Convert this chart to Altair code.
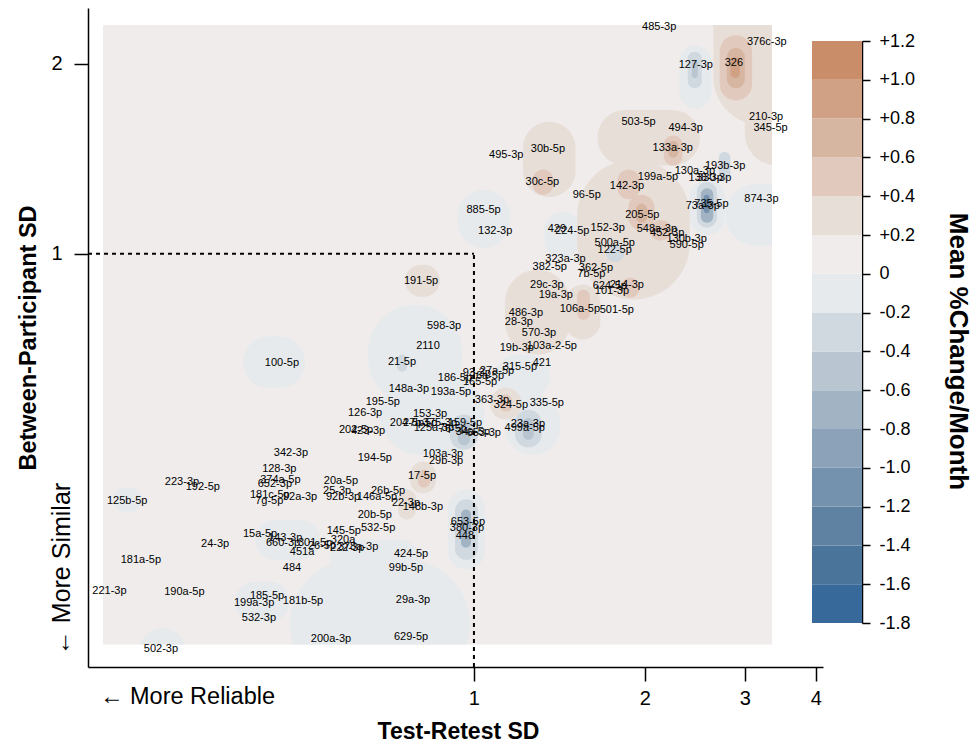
import altair as alt
import pandas as pd

# ---------------------------------------------------------------------------
# miRNA spread estimates: test-retest SD (x) and between-participant SD (y)
# ---------------------------------------------------------------------------
MIRNA = [
    "485-3p", "376c-3p", "127-3p", "326", "210-3p", "345-5p", "503-5p", "494-3p",
    "133a-3p", "495-3p", "30b-5p", "193b-3p", "130a-3p", "138-3p", "330-3p",
    "199a-5p", "142-3p", "30c-5p", "96-5p", "874-3p", "735-5p", "73a-3p",
    "205-5p", "885-5p", "132-3p", "429", "224-5p", "152-3p", "548a-3p", "452-3p",
    "130b-3p", "590-5p", "500a-5p", "122-5p", "323a-3p", "382-5p", "362-5p",
    "7b-5p", "29c-3p", "19a-3p", "624-5p", "214-3p", "101-3p", "106a-5p",
    "501-5p", "486-3p", "28-3p", "570-3p", "19b-3p", "103a-2-5p", "421",
    "315-5p", "27a-5p", "93-3p", "186-5p", "26a-5p", "165-5p", "193a-5p",
    "148a-3p", "363-3p", "324-5p", "335-5p", "195-5p", "126-3p", "153-3p",
    "23a-3p", "499a-5p", "202-5p", "423-3p", "204-5p", "27b-5p", "375-3p",
    "159-5p", "125a-3p", "76-5p", "34a-5p", "653-3p", "342-3p", "194-5p",
    "103a-3p", "29b-3p", "128-3p", "223-3p", "192-5p", "374a-5p", "652-3p",
    "181c-5p", "92a-3p", "7g-5p", "125b-5p", "20a-5p", "17-5p", "25-3p",
    "92b-3p", "146a-5p", "26b-5p", "22-3p", "148b-3p", "20b-5p", "532-5p",
    "653-5p", "380-3p", "448", "145-5p", "15a-5p", "24-3p", "143-3p", "660-3p",
    "301-5p", "26-5p", "320a", "222-3p", "378a-3p", "451a", "181a-5p", "424-5p",
    "484", "99b-5p", "221-3p", "190a-5p", "185-5p", "199a-3p", "181b-5p",
    "29a-3p", "532-3p", "200a-3p", "629-5p", "502-3p", "100-5p", "21-5p",
    "2110", "598-3p", "191-5p",
]
TEST_RETEST_SD = [
    2.12, 3.28, 2.46, 2.87, 3.27, 3.33, 1.95, 2.36,
    2.24, 1.14, 1.35, 2.77, 2.45, 2.56, 2.65,
    2.11, 1.86, 1.32, 1.58, 3.21, 2.62, 2.53,
    1.98, 1.04, 1.09, 1.40, 1.49, 1.72, 2.10, 2.19,
    2.37, 2.37, 1.77, 1.77, 1.45, 1.36, 1.64,
    1.61, 1.344, 1.394, 1.735, 1.859, 1.750, 1.537,
    1.785, 1.235, 1.20, 1.302, 1.19, 1.372, 1.317,
    1.205, 1.098, 1.012, 0.926, 1.054, 1.025, 0.911,
    0.768, 1.076, 1.162, 1.344, 0.691, 0.643, 0.837,
    1.245, 1.229, 0.620, 0.651, 0.762, 0.804, 0.871,
    0.964, 0.850, 0.918, 0.996, 1.041, 0.476, 0.669,
    0.882, 0.893, 0.454, 0.306, 0.333, 0.456, 0.446,
    0.437, 0.494, 0.436, 0.245, 0.583, 0.810, 0.574,
    0.588, 0.675, 0.706, 0.759, 0.813, 0.669, 0.678,
    0.976, 0.972, 0.964, 0.590, 0.420, 0.350, 0.465, 0.461,
    0.525, 0.540, 0.588, 0.598, 0.625, 0.498, 0.259, 0.775,
    0.478, 0.759, 0.228, 0.309, 0.432, 0.410, 0.500,
    0.781, 0.418, 0.560, 0.775, 0.281, 0.459, 0.747,
    0.830, 0.886, 0.807,
]
BETWEEN_SD = [
    2.29, 2.17, 1.99, 2.01, 1.65, 1.58, 1.62, 1.58,
    1.47, 1.435, 1.467, 1.38, 1.354, 1.32, 1.32,
    1.324, 1.281, 1.30, 1.24, 1.222, 1.20, 1.191,
    1.153, 1.174, 1.088, 1.095, 1.088, 1.099, 1.095, 1.08,
    1.056, 1.033, 1.041, 1.015, 0.982, 0.954, 0.950,
    0.930, 0.893, 0.861, 0.890, 0.893, 0.874, 0.818,
    0.815, 0.806, 0.78, 0.75, 0.71, 0.715, 0.672,
    0.662, 0.653, 0.648, 0.636, 0.641, 0.627, 0.604,
    0.611, 0.587, 0.576, 0.579, 0.583, 0.560, 0.558,
    0.538, 0.530, 0.526, 0.524, 0.540, 0.540, 0.540,
    0.540, 0.530, 0.528, 0.522, 0.520, 0.484, 0.475,
    0.482, 0.470, 0.455, 0.434, 0.426, 0.438, 0.431,
    0.415, 0.412, 0.405, 0.405, 0.437, 0.445, 0.420,
    0.412, 0.412, 0.421, 0.402, 0.396, 0.386, 0.368,
    0.375, 0.367, 0.357, 0.363, 0.359, 0.346, 0.354, 0.348,
    0.348, 0.344, 0.352, 0.341, 0.343, 0.337, 0.327, 0.334,
    0.317, 0.318, 0.292, 0.291, 0.287, 0.279, 0.281,
    0.282, 0.265, 0.245, 0.247, 0.236, 0.670, 0.674,
    0.715, 0.769, 0.906,
]

# ---------------------------------------------------------------------------
# Smoothed mean %change/month surface over the (test-retest, between) plane.
# The surface sits at the 0..+0.2 level; patches mark regions at other levels.
# Patches touching the surface border run past it and are trimmed there.
# ---------------------------------------------------------------------------
GRID_X_RANGE = [0.222, 3.35]
GRID_Y_RANGE = [0.240, 2.306]
GRID_BASE_VALUE = 0.1

PATCH_X0 = [2.64, 3.00, 1.22, 1.65, 1.52, 1.134, 1.446, 0.756, 0.772, 0.735, 1.067,
            2.71, 1.27, 1.79, 1.87, 2.16, 2.04, 1.81, 1.52, 0.797, 1.111,
            2.79, 1.93, 2.20, 2.83,
            2.30, 2.40, 2.77, 1.33, 0.937, 0.651, 0.392, 0.683, 1.134, 1.089,
            0.900, 0.474, 0.558, 0.379, 0.258, 0.231, 0.412,
            2.38, 2.70, 2.47, 1.71, 0.732, 0.907, 1.181, 0.926,
            2.42, 0.937, 1.22, 2.51, 0.949, 2.54, 2.55]
PATCH_X1 = [3.90, 3.90, 1.51, 2.50, 2.40, 1.476, 1.67, 0.871, 0.857, 0.790, 1.215,
            3.09, 1.38, 1.96, 2.08, 2.33, 2.23, 1.96, 1.60, 0.837, 1.166,
            3.00, 2.02, 2.29, 2.94,
            2.62, 2.77, 3.90, 1.54, 1.157, 0.953, 0.504, 1.045, 1.42, 1.361,
            1.045, 0.984, 0.803, 0.474, 0.310, 0.260, 0.536,
            2.52, 2.83, 2.68, 1.84, 0.762, 1.016, 1.317, 1.016,
            2.48, 0.984, 1.275, 2.64, 0.988, 2.60, 2.59]
PATCH_Y0 = [1.60, 1.38, 1.23, 1.38, 0.846, 0.692, 0.731, 0.855, 0.417, 0.379, 0.546,
            1.75, 1.24, 1.22, 1.09, 1.38, 1.05, 0.852, 0.786, 0.426, 0.562,
            1.83, 1.12, 1.42, 1.90,
            1.70, 1.07, 1.03, 0.985, 1.022, 0.576, 0.613, 0.480, 0.480, 0.587,
            0.316, 0.205, 0.304, 0.261, 0.205, 0.390, 0.327,
            1.83, 1.31, 1.10, 0.971, 0.650, 0.489, 0.493, 0.327,
            1.90, 0.497, 0.507, 1.12, 0.342, 1.16, 1.18]
PATCH_Y1 = [2.70, 1.79, 1.62, 1.69, 1.41, 0.943, 0.893, 0.961, 0.468, 0.423, 0.613,
            2.22, 1.36, 1.36, 1.24, 1.54, 1.13, 0.916, 0.877, 0.455, 0.598,
            2.12, 1.20, 1.51, 2.05,
            2.14, 1.31, 1.29, 1.166, 1.263, 0.830, 0.739, 0.643, 0.598, 0.692,
            0.423, 0.327, 0.352, 0.302, 0.255, 0.426, 0.379,
            2.09, 1.45, 1.30, 1.033, 0.692, 0.556, 0.566, 0.408,
            2.03, 0.546, 0.549, 1.27, 0.393, 1.24, 1.22]
PATCH_VALUE = [0.3, 0.3, 0.3, 0.3, 0.3, 0.3, 0.3, 0.3, 0.3, 0.3, 0.3,
               0.5, 0.5, 0.5, 0.5, 0.5, 0.5, 0.5, 0.5, 0.5, 0.5,
               0.7, 0.7, 0.7, 0.9,
               -0.1, -0.1, -0.1, -0.1, -0.1, -0.1, -0.1, -0.1, -0.1, -0.1,
               -0.1, -0.1, -0.1, -0.1, -0.1, -0.1, -0.1,
               -0.3, -0.3, -0.3, -0.3, -0.3, -0.3, -0.3, -0.3,
               -0.5, -0.5, -0.5, -0.7, -0.7, -1.1, -1.3]

# ---------------------------------------------------------------------------
# Colour bands for mean %change/month
# ---------------------------------------------------------------------------
BAND_EDGES = [-1.8, -1.6, -1.4, -1.2, -1.0, -0.8, -0.6, -0.4, -0.2,
              0.0, 0.2, 0.4, 0.6, 0.8, 1.0, 1.2]
BAND_COLORS = ["#376a9a", "#4a7499", "#5f81a2", "#7491ad", "#8ca2b8",
               "#a2b4c3", "#b9c5d0", "#d1d9e0", "#e7eaed", "#efeceb",
               "#e7ded7", "#e1c9bd", "#d7b6a1", "#d0a184", "#c98d69"]

X_TICKS = [1, 2, 3, 4]
Y_TICKS = [1, 2]
SD_CUTOFF = 1
X_DOMAIN = [0.209, 4.12]
Y_DOMAIN = [0.2212, 2.453]

W, H = 735, 659
FONT = "Liberation Sans"

# ---------------------------------------------------------------------------
points = pd.DataFrame({"mirna": MIRNA, "trt": TEST_RETEST_SD, "bps": BETWEEN_SD})

surface_base = pd.DataFrame({"x0": [GRID_X_RANGE[0]], "x1": [GRID_X_RANGE[1]],
                             "y0": [GRID_Y_RANGE[0]], "y1": [GRID_Y_RANGE[1]],
                             "v": [GRID_BASE_VALUE]})
patches = pd.DataFrame({"x0": PATCH_X0, "x1": PATCH_X1, "y0": PATCH_Y0,
                        "y1": PATCH_Y1, "v": PATCH_VALUE})
patches["depth"] = patches["v"].abs()
patches = patches.sort_values("depth", kind="stable")

# blank strips between the surface border and the axes
outside = pd.DataFrame({
    "x0": [X_DOMAIN[0], GRID_X_RANGE[1], X_DOMAIN[0], X_DOMAIN[0]],
    "x1": [GRID_X_RANGE[0], X_DOMAIN[1], X_DOMAIN[1], X_DOMAIN[1]],
    "y0": [Y_DOMAIN[0], Y_DOMAIN[0], GRID_Y_RANGE[1], Y_DOMAIN[0]],
    "y1": [Y_DOMAIN[1], Y_DOMAIN[1], Y_DOMAIN[1], GRID_Y_RANGE[0]],
})

bands = pd.DataFrame({"lo": BAND_EDGES[:-1], "hi": BAND_EDGES[1:]})
bands["mid"] = (bands["lo"] + bands["hi"]) / 2

cutoff_h = pd.DataFrame({"x0": [X_DOMAIN[0]], "x1": [SD_CUTOFF], "y": [SD_CUTOFF]})
cutoff_v = pd.DataFrame({"x": [SD_CUTOFF], "y0": [Y_DOMAIN[0]], "y1": [SD_CUTOFF]})

xs = alt.Scale(type="log", domain=X_DOMAIN, nice=False)
ys = alt.Scale(type="log", domain=Y_DOMAIN, nice=False)
color_scale = alt.Scale(type="threshold", domain=BAND_EDGES[1:-1], range=BAND_COLORS)

x_axis = alt.Axis(
    values=X_TICKS, format="d", title="Test-Retest SD", grid=False, zindex=1,
    titleFont=FONT, titleFontSize=23, titleFontWeight="bold", titleColor="black",
    titleX=370, titleY=64, titleBaseline="middle", titleAlign="center",
    labelFont=FONT, labelFontSize=20, labelColor="black", labelPadding=7,
    labelFlush=False, tickSize=14, tickWidth=1.5, tickColor="black",
    domainColor="black", domainWidth=1.5,
)
y_axis = alt.Axis(
    values=Y_TICKS, format="d", title="Between-Participant SD", grid=False, zindex=1,
    titleFont=FONT, titleFontSize=23.5, titleFontWeight="bold", titleColor="black",
    titleX=-60, titleY=H / 2, titleAngle=270, titleBaseline="middle", titleAlign="center",
    labelFont=FONT, labelFontSize=20, labelColor="black", labelPadding=12,
    labelFlush=False, tickSize=14, tickWidth=1.5, tickColor="black",
    domainColor="black", domainWidth=1.5,
)

color_enc = alt.Color("v:Q", scale=color_scale, legend=None)

base_layer = alt.Chart(surface_base).mark_rect().encode(
    x=alt.X("x0:Q", scale=xs, axis=x_axis),
    x2="x1:Q",
    y=alt.Y("y0:Q", scale=ys, axis=y_axis),
    y2="y1:Q",
    color=color_enc,
)

patch_layer = alt.Chart(patches).mark_rect(cornerRadius=999, clip=True).encode(
    x=alt.X("x0:Q", scale=xs), x2="x1:Q",
    y=alt.Y("y0:Q", scale=ys), y2="y1:Q",
    color=color_enc,
)

outside_layer = alt.Chart(outside).mark_rect(fill="white", opacity=1).encode(
    x=alt.X("x0:Q", scale=xs), x2="x1:Q",
    y=alt.Y("y0:Q", scale=ys), y2="y1:Q",
)

rule_h = alt.Chart(cutoff_h).mark_rule(color="black", strokeWidth=2, strokeDash=[4, 4]).encode(
    x=alt.X("x0:Q", scale=xs), x2="x1:Q", y=alt.Y("y:Q", scale=ys))
rule_v = alt.Chart(cutoff_v).mark_rule(color="black", strokeWidth=2, strokeDash=[4, 4]).encode(
    x=alt.X("x:Q", scale=xs), y=alt.Y("y0:Q", scale=ys), y2="y1:Q")

labels = alt.Chart(points).mark_text(font=FONT, fontSize=11, color="black").encode(
    x=alt.X("trt:Q", scale=xs), y=alt.Y("bps:Q", scale=ys), text="mirna:N")

reliable_note = alt.Chart(pd.DataFrame({"t": ["← More Reliable"]})).mark_text(
    font=FONT, fontSize=23.5, color="black", align="left", baseline="middle"
).encode(x=alt.value(12), y=alt.value(H + 30), text="t:N")

similar_note = alt.Chart(pd.DataFrame({"t": ["← More Similar"]})).mark_text(
    font=FONT, fontSize=25, color="black", align="center", baseline="middle", angle=270
).encode(x=alt.value(-26), y=alt.value(561), text="t:N")

main = alt.layer(base_layer, patch_layer, outside_layer, rule_h, rule_v, labels,
                 reliable_note, similar_note)

legend_axis = alt.Axis(
    orient="right", offset=39, values=BAND_EDGES, grid=False,
    labelExpr="datum.value > 0.001 ? '+' + format(datum.value, '.1f') : "
              "(datum.value < -0.001 ? '-' + format(abs(datum.value), '.1f') : '0')",
    labelFont=FONT, labelFontSize=18, labelColor="black", labelPadding=9,
    tickSize=8, tickWidth=1.5, tickColor="black", domainColor="black", domainWidth=1.5,
    title="Mean %Change/Month", titleFont=FONT, titleFontSize=26, titleFontWeight="bold",
    titleColor="black", titleAngle=90, titleX=95, titleY=343,
    titleAlign="center", titleBaseline="middle",
)

legend_layer = alt.Chart(bands).mark_rect().encode(
    x=alt.value(724), x2=alt.value(774),
    y=alt.Y("lo:Q", scale=alt.Scale(domain=[BAND_EDGES[0], BAND_EDGES[-1]], range=[615, 33],
                                    nice=False, zero=False), axis=legend_axis),
    y2="hi:Q",
    color=alt.Color("mid:Q", scale=color_scale, legend=None),
)

chart = alt.layer(main, legend_layer).resolve_scale(y="independent").properties(
    width=W, height=H,
    padding={"left": 88, "top": 8, "right": 149, "bottom": 76},
    autosize=alt.AutoSizeParams(type="none"),
    background="white",
).configure_view(stroke=None)

chart.save("out.html", embed_options={"renderer": "svg", "actions": False})
